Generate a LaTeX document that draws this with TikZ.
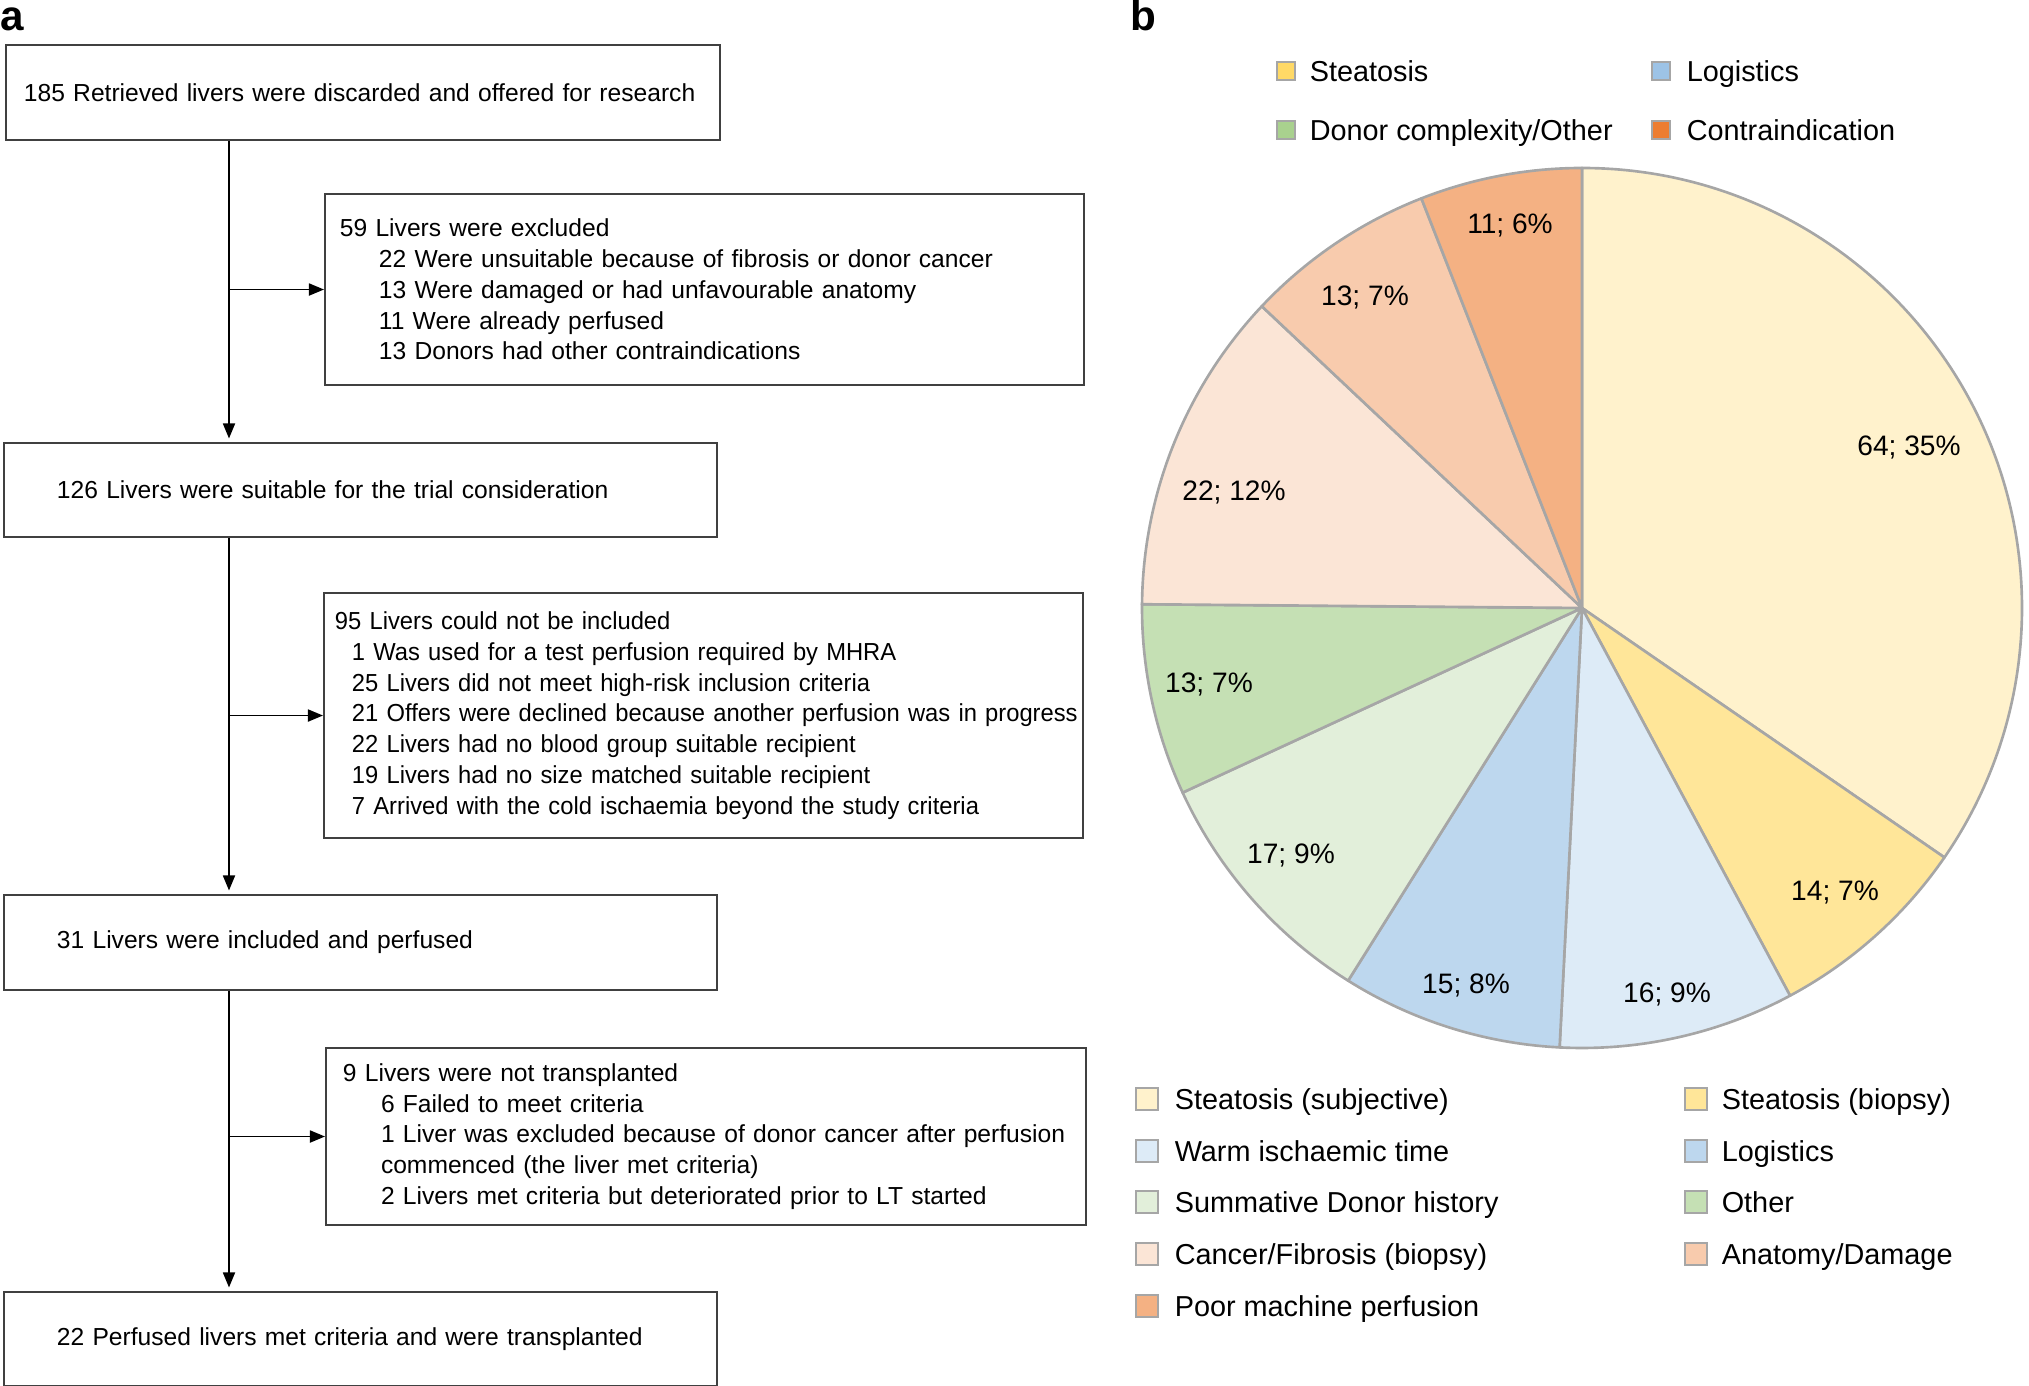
\documentclass[tikz,border=0pt]{standalone}
\usepackage{fontspec}
\setmainfont{Liberation Sans}
\usepackage{tikz}
\usetikzlibrary{arrows.meta,positioning}
\usepackage{xcolor}
\definecolor{boxgray}{RGB}{64,64,64}
\definecolor{piegray}{RGB}{166,166,166}
\definecolor{steatsubj}{RGB}{255,242,204}
\definecolor{steatbiop}{RGB}{255,230,153}
\definecolor{warmisch}{RGB}{221,235,247}
\definecolor{logist}{RGB}{189,215,238}
\definecolor{summdonor}{RGB}{226,239,218}
\definecolor{otherg}{RGB}{197,224,180}
\definecolor{cancerfib}{RGB}{251,229,214}
\definecolor{anatdam}{RGB}{248,203,173}
\definecolor{poormp}{RGB}{244,177,131}
\definecolor{legsteat}{RGB}{255,217,102}
\definecolor{leglog}{RGB}{157,195,230}
\definecolor{legdonor}{RGB}{169,209,142}
\definecolor{legcontra}{RGB}{237,125,49}
\newcommand{\flowsize}{\fontsize{7pt}{8.76pt}\selectfont}
\newcommand{\piesize}{\fontsize{8pt}{9.6pt}\selectfont}
\newcommand{\legsize}{\fontsize{8.2pt}{9.8pt}\selectfont}
\tikzstyle{arrow} = [line width=0.5pt, color=black, -{Triangle[length=0.15cm,width=0.12cm]}]
\tikzstyle{flowbox} = [rectangle, draw=boxgray, line width=0.55pt, anchor=north west, align=left, font=\flowsize]
\tikzstyle{slice} = [draw=piegray, line width=0.75pt, line join=round]
\tikzstyle{pielabel} = [font=\piesize, inner sep=0pt, text height=5.7pt, text depth=0pt]
\tikzstyle{legkey} = [rectangle, draw=piegray, line width=0.6pt, inner sep=0pt]
\tikzstyle{legtext} = [font=\legsize, inner sep=0pt, anchor=west, text height=5.9pt, text depth=0pt]
\tikzstyle{panel} = [font=\fontsize{12pt}{14pt}\selectfont\bfseries, inner sep=0pt, anchor=base west]
\newcommand{\pieslice}[3]{\filldraw[slice, fill=#3] (pc) -- ++(#1:440) arc[start angle=#1, end angle=#2, radius=440] -- cycle;}

\begin{document}
\begin{tikzpicture}[x=0.01cm, y=-0.01cm]
    \useasboundingbox (0,0) rectangle (2029,1386);

    % Panel letters
    \node[panel] (pa) at (0,31) {a};
    \node[panel] (pb) at (1130,31) {b};

    % Main flow boxes
    \node[flowbox, text width=6.78cm, inner xsep=0.18cm, minimum height=0.95cm] (b185) at (5,44) {\mbox{185 Retrieved livers were discarded and offered for research}};
    \node[flowbox, text width=6.07cm, inner xsep=0.53cm, minimum height=0.94cm] (b126) at (3,442) {126 Livers were suitable for the trial consideration};
    \node[flowbox, text width=6.07cm, inner xsep=0.53cm, minimum height=0.95cm] (b31) at (3,894) {31 Livers were included and perfused};
    \node[flowbox, text width=6.07cm, inner xsep=0.53cm, minimum height=0.94cm] (b22) at (3,1291) {22 Perfused livers met criteria and were transplanted};

    % Exclusion boxes
    \node[flowbox, text width=7.29cm, inner xsep=0.15cm, minimum height=1.91cm] (e59) at (324,193) {59 Livers were excluded\\
        \hspace*{0.39cm}22 Were unsuitable because of fibrosis or donor cancer\\
        \hspace*{0.39cm}13 Were damaged or had unfavourable anatomy\\
        \hspace*{0.39cm}11 Were already perfused\\
        \hspace*{0.39cm}13 Donors had other contraindications};
    \node[flowbox, text width=7.37cm, inner xsep=0.11cm, minimum height=2.45cm,
          font=\flowsize\addfontfeature{FakeStretch=0.965}] (e95) at (323,592) {95 Livers could not be included\\
        \hspace*{0.17cm}1 Was used for a test perfusion required by MHRA\\
        \hspace*{0.17cm}25 Livers did not meet high-risk inclusion criteria\\
        \mbox{\hspace*{0.17cm}21 Offers were declined because another perfusion was in progress}\\
        \hspace*{0.17cm}22 Livers had no blood group suitable recipient\\
        \hspace*{0.17cm}19 Livers had no size matched suitable recipient\\
        \hspace*{0.17cm}7 Arrived with the cold ischaemia beyond the study criteria};
    \node[flowbox, text width=7.26cm, inner xsep=0.17cm, minimum height=1.77cm] (e9) at (325,1047) {9 Livers were not transplanted\\
        \hspace*{0.38cm}6 Failed to meet criteria\\
        \mbox{\hspace*{0.38cm}1 Liver was excluded because of donor cancer after perfusion}\\
        \hspace*{0.38cm}commenced (the liver met criteria)\\
        \hspace*{0.38cm}2 Livers met criteria but deteriorated prior to LT started};

    % Arrows
    \coordinate (spine) at (229,0);
    \draw[arrow, shorten >=1pt] (b185.south -| spine) -- (b126.north -| spine);
    \draw[arrow, shorten >=1pt] (b126.south -| spine) -- (b31.north -| spine);
    \draw[arrow, shorten >=1pt] (b31.south -| spine) -- (b22.north -| spine);
    \draw[arrow] (spine |- e59.west) -- (e59.west);
    \draw[arrow] (spine |- e95.west) -- (e95.west);
    \draw[arrow] (spine |- e9.west) -- (e9.west);

    % Pie chart
    \coordinate (pc) at (1582,608);
    \pieslice{-90}{34.54}{steatsubj}
    \pieslice{34.54}{61.78}{steatbiop}
    \pieslice{61.78}{92.92}{warmisch}
    \pieslice{92.92}{122.11}{logist}
    \pieslice{122.11}{155.19}{summdonor}
    \pieslice{155.19}{180.49}{otherg}
    \pieslice{180.49}{223.30}{cancerfib}
    \pieslice{223.30}{248.59}{anatdam}
    \pieslice{248.59}{270}{poormp}

    % Slice labels
    \node[pielabel] (p64) at (1909,445) {64; 35\%};
    \node[pielabel] (p14) at (1835,890) {14; 7\%};
    \node[pielabel] (p16) at (1667,992) {16; 9\%};
    \node[pielabel] (p15) at (1466,983) {15; 8\%};
    \node[pielabel] (p17) at (1291,853) {17; 9\%};
    \node[pielabel] (p13g) at (1209,682) {13; 7\%};
    \node[pielabel] (p22) at (1234,490) {22; 12\%};
    \node[pielabel] (p13o) at (1365,295) {13; 7\%};
    \node[pielabel] (p11) at (1510,223) {11; 6\%};

    % Top legend
    \node[legkey, minimum size=0.18cm, fill=legsteat] (kst) at (1286,71) {};
    \node[legtext, right=0.13cm of kst] (tst) {Steatosis};
    \node[legkey, minimum size=0.18cm, fill=legdonor] (kdo) at (1286,130) {};
    \node[legtext, right=0.13cm of kdo] (tdo) {Donor complexity/Other};
    \node[legkey, minimum size=0.18cm, fill=leglog] (klo) at (1661,71) {};
    \node[legtext, right=0.15cm of klo] (tlo) {Logistics};
    \node[legkey, minimum size=0.18cm, fill=legcontra] (kco) at (1661,130) {};
    \node[legtext, right=0.15cm of kco] (tco) {Contraindication};

    % Bottom legend
    \node[legkey, minimum size=0.22cm, fill=steatsubj] (ks1) at (1147,1099) {};
    \node[legtext, right=0.15cm of ks1] (ts1) {Steatosis (subjective)};
    \node[legkey, minimum size=0.22cm, fill=warmisch] (ks2) at (1147,1151) {};
    \node[legtext, right=0.15cm of ks2] (ts2) {Warm ischaemic time};
    \node[legkey, minimum size=0.22cm, fill=summdonor] (ks3) at (1147,1202) {};
    \node[legtext, right=0.15cm of ks3] (ts3) {Summative Donor history};
    \node[legkey, minimum size=0.22cm, fill=cancerfib] (ks4) at (1147,1254) {};
    \node[legtext, right=0.15cm of ks4] (ts4) {Cancer/Fibrosis (biopsy)};
    \node[legkey, minimum size=0.22cm, fill=poormp] (ks5) at (1147,1306) {};
    \node[legtext, right=0.15cm of ks5] (ts5) {Poor machine perfusion};
    \node[legkey, minimum size=0.22cm, fill=steatbiop] (kr1) at (1696,1099) {};
    \node[legtext, right=0.13cm of kr1] (tr1) {Steatosis (biopsy)};
    \node[legkey, minimum size=0.22cm, fill=logist] (kr2) at (1696,1151) {};
    \node[legtext, right=0.13cm of kr2] (tr2) {Logistics};
    \node[legkey, minimum size=0.22cm, fill=otherg] (kr3) at (1696,1202) {};
    \node[legtext, right=0.13cm of kr3] (tr3) {Other};
    \node[legkey, minimum size=0.22cm, fill=anatdam] (kr4) at (1696,1254) {};
    \node[legtext, right=0.13cm of kr4] (tr4) {Anatomy/Damage};
\end{tikzpicture}
\end{document}
